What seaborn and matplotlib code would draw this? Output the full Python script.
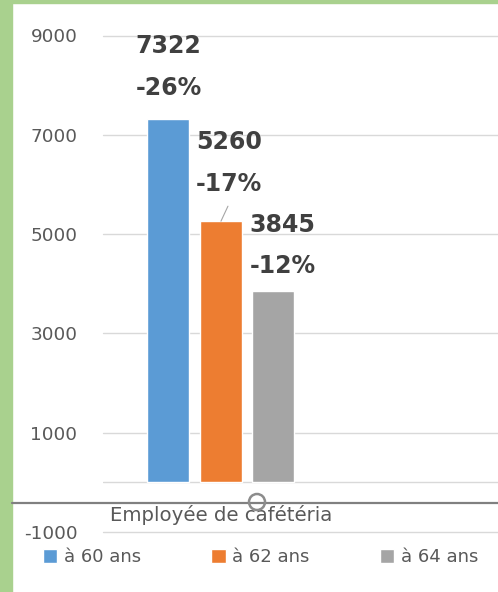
import numpy as np
import pandas as pd
import matplotlib
matplotlib.use("Agg")
import matplotlib.pyplot as plt
from matplotlib.patches import Rectangle, Ellipse
from matplotlib.lines import Line2D
import seaborn as sns

# data
category = "Employée de cafétéria"
series = ["à 60 ans", "à 62 ans", "à 64 ans"]
values = [7322, 5260, 3845]
pct_labels = ["-26%", "-17%", "-12%"]
yticks = [-1000, 1000, 3000, 5000, 7000, 9000]

palette = ["#5B9BD5", "#ED7D31", "#A5A5A5"]
W, H = 498, 592

sns.set_theme(style="white")
plt.rcParams['font.family'] = ['DejaVu Sans']

df = pd.DataFrame({"cat": [category]*3, "serie": series, "val": values})

fig = plt.figure(figsize=(W/100, H/100), dpi=100)
fig.patch.set_facecolor("white")

# green frame on left/top
fig.add_artist(Rectangle((0, 0), 12/W, 1, transform=fig.transFigure, color="#A9D18E", zorder=0))
fig.add_artist(Rectangle((0, 1-3/H), 1, 3/H, transform=fig.transFigure, color="#A9D18E", zorder=0))

ax = fig.add_axes([103/W, 1-532/H, 1-103/W, (532-35.5)/H])
sns.barplot(data=df, x="cat", y="val", hue="serie", palette=palette,
            width=0.8, gap=0.2, legend=False, ax=ax, saturation=1)

ax.set_ylim(-1000, 9000)
ax.set_xlim(-0.599, 1.407)
for s in ax.spines.values():
    s.set_visible(False)
ax.set_yticks(yticks)
ax.set_yticklabels([str(t) for t in yticks])
ax.tick_params(axis="y", length=0, pad=18.5, labelsize=13.3, labelcolor="#595959")
ax.set_xticks([])
ax.set_xlabel("")
ax.set_ylabel("")
for t in yticks:
    ax.axhline(t, color="#D9D9D9", lw=1, zorder=0, clip_on=False)
ax.axhline(0, color="#D9D9D9", lw=1, zorder=0)

# category label
ax.annotate(category, xy=(0, 0), xytext=(0, -33), textcoords="offset pixels",
            ha="center", va="center", fontsize=14.2, color="#595959")

# data labels (value + percent)
offsets = [
    dict(dx=0, ha="center", dv=73, dp=31),
    dict(dx=-25, ha="left", dv=79, dp=37),
    dict(dx=-24, ha="left", dv=66, dp=25),
]
for cont, v, p, o in zip(ax.containers, values, pct_labels, offsets):
    bar = cont.patches[0]
    cx = bar.get_x() + bar.get_width()/2
    top = bar.get_height()
    ax.annotate(str(v), xy=(cx, top), xytext=(o["dx"], o["dv"]), textcoords="offset pixels",
                ha=o["ha"], va="center", fontsize=17, fontweight="bold", color="#404040")
    ax.annotate(p, xy=(cx, top), xytext=(o["dx"], o["dp"]), textcoords="offset pixels",
                ha=o["ha"], va="center", fontsize=17, fontweight="bold", color="#404040")

# leader line for orange label
bar = ax.containers[1].patches[0]
ax.annotate("", xy=(bar.get_x() + bar.get_width()/2, bar.get_height()), xytext=(7, 15),
            textcoords="offset pixels",
            arrowprops=dict(arrowstyle="-", color="#A6A6A6", lw=0.8, shrinkA=0, shrinkB=0))

# dark horizontal line and selection handle
fig.add_artist(Line2D([12/W, 1], [1-502.5/H, 1-502.5/H], transform=fig.transFigure,
                      color="#808080", lw=1.6, zorder=5))
fig.add_artist(Ellipse((257/W, 1-502/H), 16/W, 16/H, transform=fig.transFigure,
                       facecolor="none", edgecolor="#8C8C8C", lw=1.8, zorder=6))

# legend
handles = [c.patches[0] for c in ax.containers]
fig.legend(handles, series, loc="center left", bbox_to_anchor=(43/W, 1-557/H),
           ncol=3, frameon=False, fontsize=13, handlelength=0.8, handleheight=0.8,
           handletextpad=0.35, columnspacing=3.9, borderpad=0, borderaxespad=0,
           labelcolor="#595959")

fig.savefig("out.png", dpi=100)
